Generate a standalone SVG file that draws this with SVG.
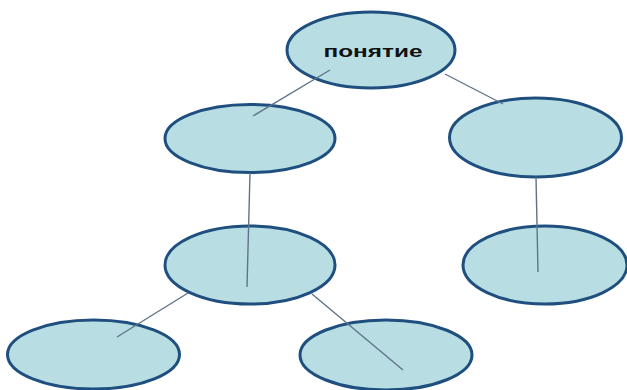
<svg xmlns="http://www.w3.org/2000/svg" width="627" height="390" viewBox="0 0 627 390">
<style>
.node{fill:#b8dee4;stroke:#1f4f7f;stroke-width:3}
.edge{stroke:#5f7489;stroke-width:1.4;fill:none}
.lbl{font-family:"Liberation Sans",Arial,sans-serif;font-weight:bold;font-size:17px;fill:#111}
</style>
<rect width="627" height="390" fill="#ffffff"/>
<g id="n0"><ellipse class="node" cx="371" cy="50" rx="84" ry="38"/><text class="lbl" x="373" y="57" text-anchor="middle" textLength="99" lengthAdjust="spacingAndGlyphs">понятие</text></g>
<g id="n1"><ellipse class="node" cx="250" cy="138.5" rx="85" ry="34"/></g>
<g id="n2"><ellipse class="node" cx="535.5" cy="137.5" rx="86" ry="39.5"/></g>
<g id="n3"><ellipse class="node" cx="250" cy="265" rx="85" ry="39"/></g>
<g id="n4"><ellipse class="node" cx="545" cy="265" rx="82" ry="39"/></g>
<g id="n5"><ellipse class="node" cx="93.5" cy="354.5" rx="86" ry="34.5"/></g>
<g id="n6"><ellipse class="node" cx="386" cy="355" rx="86" ry="35"/></g>
<g id="edges">
<line class="edge" x1="330" y1="70" x2="253" y2="116"/>
<line class="edge" x1="445" y1="74" x2="503" y2="104"/>
<line class="edge" x1="250" y1="173" x2="247" y2="287"/>
<line class="edge" x1="536" y1="177" x2="538" y2="272"/>
<line class="edge" x1="188" y1="293" x2="117" y2="337"/>
<line class="edge" x1="312" y1="294" x2="403" y2="370"/>
</g>
</svg>
